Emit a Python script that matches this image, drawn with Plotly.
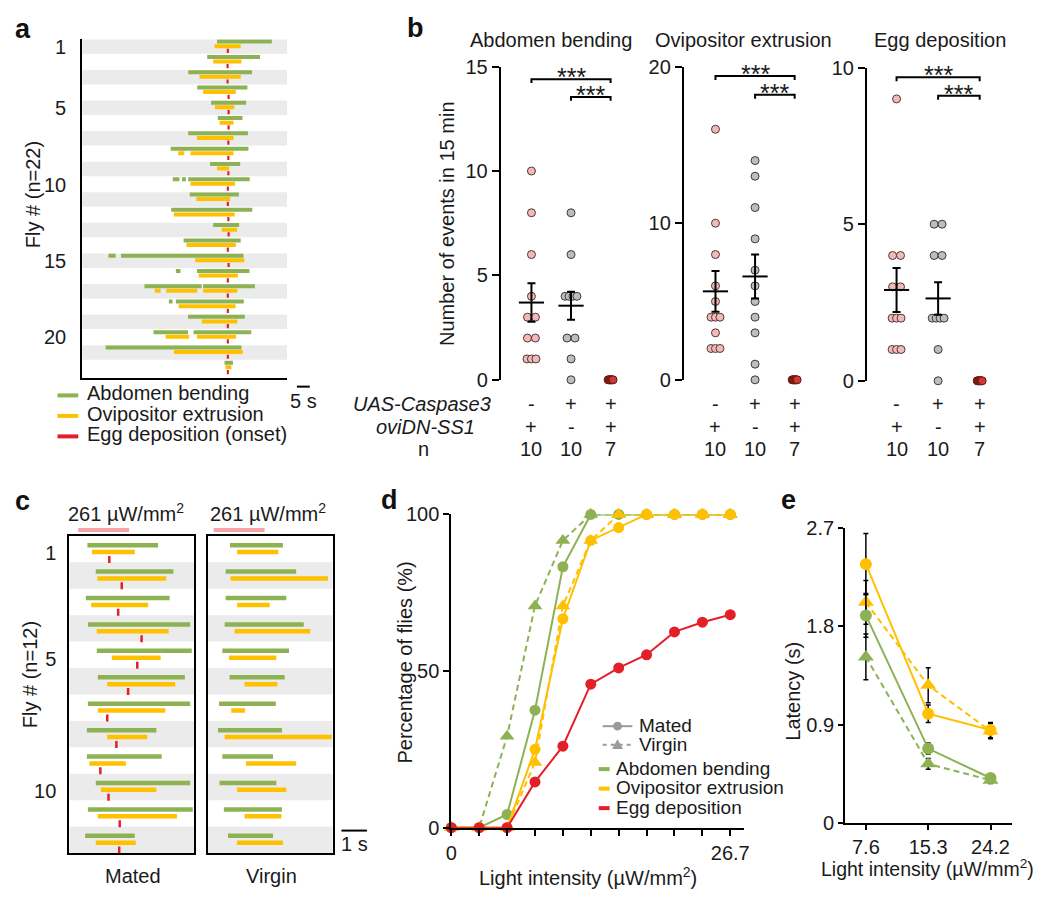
import plotly.graph_objects as go
import numpy as np
from collections import Counter

W, H = 1050, 905
FONT = "Liberation Sans, Arial, Helvetica, sans-serif"
TXT = "#1a1a1a"
GREEN = "#8db253"
YELLOW = "#ffc000"
RED = "#e3202a"
STRIPE = "#ebebeb"
PINK = "#f4b8b8"
GRAYPT = "#bdbdbd"
DARKRED = "#cc3b33"
LEGGRAY = "#9a9a9a"
STIMPINK = "#f5a3a8"

# ---------------- data: panel a (seconds relative to egg deposition) ----------------
a_green = [
    [(-4.1, 17.2)], [(-7.9, 12.6)], [(-15.3, 9.5)], [(-11.8, 7.7)], [(-6.4, 7.2)],
    [(-3.8, 5.8)], [(-15.3, 7.9)], [(-22.1, 8.1)], [(-6.8, 4.9)],
    [(-21.3, -18.7), (-17.7, -16.2), (-15.3, 8.6)],
    [(-14.7, 4.4)], [(-21.9, 9.6)], [(-5.6, 4.5)], [(-17.1, 5.1)],
    [(-46.3, -43.5), (-41.4, 6.2)],
    [(-20.1, -18.3), (-11.9, 8.5)],
    [(-32.3, -10.1), (-9.5, 10.6)],
    [(-22.8, -21.4), (-20.1, 6.3)],
    [(-15.4, 6.7)],
    [(-28.8, -15.4), (-13.2, 9.2)],
    [(-47.4, 5.4)],
    [(-1.2, 2.1)],
]
a_yellow = [
    [(-5.1, 5.1)], [(-5.6, 5.4)], [(-10.9, 5.1)], [(-9.5, 3.2)], [(-4.9, 2.6)],
    [(-3.1, 2.3)], [(-11.9, 2.3)], [(-19.2, -16.8), (-14.4, 2.3)], [(-4.1, 0.6)],
    [(-14.4, 2.9)], [(-12.1, 1.0)], [(-20.9, 2.8)], [(-2.3, 3.7)], [(-16.0, 3.2)],
    [(-12.6, 6.5)], [(-11.2, 4.0)],
    [(-28.3, -26.0), (-23.8, -11.8), (-9.5, 3.8)],
    [(-19.0, 3.1)], [(-10.0, 3.8)],
    [(-24.1, -15.0), (-11.9, 3.3)],
    [(-20.9, 5.9)], [(-0.8, 1.5)],
]
a_egg = [0.1, 0.0, 0.0, 0.4, 0.4, 0.4, 0.3, 0.3, 0.3, 0.1, 0.1,
         0.3, 0.4, 0.1, 0.4, 0.1, 0.1, 0.1, 0.1, 0.1, 0.1, 0.1]
a_ticks = [1, 5, 10, 15, 20]
a_scale_s = 5

# ---------------- data: panel b ----------------
b_titles = ["Abdomen bending", "Ovipositor extrusion", "Egg deposition"]
b_groups = [1, 2, 3]
abd_vals = [[10, 8, 6, 4, 3, 3, 2, 2, 1, 1, 1],
            [8, 6, 4, 4, 4, 4, 2, 2, 1, 0],
            [0, 0, 0, 0, 0, 0, 0]]
ovi_vals = [[16, 10, 8, 6, 5, 4, 4, 4, 3, 2, 2, 2],
            [14, 13, 11, 9, 7, 6, 5, 4, 3, 1, 0],
            [0, 0, 0, 0, 0, 0, 0]]
egg_vals = [[9, 4, 4, 3, 3, 2, 2, 2, 1, 1, 1],
            [5, 5, 4, 4, 2, 2, 2, 2, 1, 0],
            [0, 0, 0, 0, 0, 0, 0]]
b_means = [[3.7, 3.55], [5.65, 6.6], [2.9, 2.63]]
b_sems = [[0.92, 0.67], [1.3, 1.4], [0.7, 0.52]]
b_ymax = [15, 20, 10]
b_yticks = [[0, 5, 10, 15], [0, 10, 20], [0, 5, 10]]
b_sig = [[14.4, 13.55], [19.4, 18.2], [9.69, 9.1]]
row_caspase = ["-", "+", "+"]
row_ovidn = ["+", "-", "+"]
row_n = ["10", "10", "7"]

# ---------------- data: panel c (seconds from light onset) ----------------
c_mated_green = [(0.36, 3.14), (0.69, 3.74), (0.30, 3.59), (0.38, 4.40), (0.73, 4.46), (0.77, 4.19),
                 (0.38, 4.40), (0.34, 3.07), (0.34, 3.28), (0.69, 4.40), (0.38, 4.50), (0.27, 2.22)]
c_mated_yellow = [(0.54, 2.22), (0.75, 3.46), (0.51, 2.75), (0.73, 3.55), (1.32, 3.24), (1.14, 3.81),
                  (0.77, 3.42), (1.14, 2.71), (0.44, 1.87), (0.89, 3.07), (0.77, 3.88), (0.69, 2.26)]
c_mated_egg = [1.22, 1.71, 1.57, 2.49, 2.32, 1.96, 1.14, 1.50, 0.87, 1.19, 1.63, 1.61]
c_virgin_green = [(0.64, 2.72), (0.47, 3.24), (0.47, 2.85), (0.43, 3.54), (0.34, 2.96), (0.62, 2.79),
                  (0.21, 2.44), (0.17, 2.68), (0.34, 2.33), (0.23, 2.46), (0.40, 2.68), (0.56, 2.33)]
c_virgin_yellow = [(0.92, 2.54), (0.66, 4.49), (0.92, 2.20), (0.82, 3.80), (0.60, 2.46), (1.21, 2.50),
                   (0.69, 1.23), (0.43, 4.64), (1.27, 3.24), (0.92, 2.85), (1.21, 2.66), (0.92, 2.72)]
c_stim = (0.0, 2.0)
c_ticks = [1, 5, 10]
c_scale_s = 1

# ---------------- data: panel d ----------------
d_intensity = [0, 2.67, 5.34, 8.01, 10.68, 13.35, 16.02, 18.69, 21.36, 24.03, 26.7]
d_tick_labels = ["0", "26.7"]
d_abd_mated = [0, 0, 4.2, 37.5, 83.3, 100, 100, 100, 100, 100, 100]
d_abd_virgin = [0, 0, 29.2, 70.8, 91.7, 100, 100, 100, 100, 100, 100]
d_ovi_mated = [0, 0, 0, 25.0, 66.7, 91.7, 95.8, 100, 100, 100, 100]
d_ovi_virgin = [0, 0, 0, 20.8, 70.8, 91.7, 100, 100, 100, 100, 100]
d_egg_mated = [0, 0, 0, 14.6, 26.0, 45.8, 51.0, 55.2, 62.5, 65.6, 68.0]

# ---------------- data: panel e ----------------
e_labels = ["7.6", "15.3", "24.2"]
e_abd_mated = [1.90, 0.68, 0.41]
e_abd_mated_sem = [0.20, 0.05, 0.03]
e_abd_virgin = [1.52, 0.54, 0.39]
e_abd_virgin_sem = [0.21, 0.05, 0.03]
e_ovi_mated = [2.37, 1.00, 0.85]
e_ovi_mated_sem = [0.28, 0.08, 0.07]
e_ovi_virgin = [2.02, 1.26, 0.84]
e_ovi_virgin_sem = [0.20, 0.16, 0.07]

# =====================================================================
fig = go.Figure()
shapes, annots, axes = [], [], {}
PANELS = {}


def X(p):
    return p / W


def Y(p):
    return 1 - p / H


def txt(x, y, s, size=20, xanchor="center", yanchor="middle", angle=0,
        color=TXT, xref="paper", yref="paper", yshift=0):
    if xref == "paper":
        x = X(x)
    if yref == "paper":
        y = Y(y)
    annots.append(dict(x=x, y=y, xref=xref, yref=yref, text=s, showarrow=False,
                       xanchor=xanchor, yanchor=yanchor, textangle=angle, yshift=yshift,
                       borderpad=0, font=dict(family=FONT, size=size, color=color)))


def pline(x0, y0, x1, y1, color="black", width=2, dash=None):
    ln = dict(color=color, width=width)
    if dash:
        ln["dash"] = dash
    shapes.append(dict(type="line", xref="paper", yref="paper", x0=X(x0), y0=Y(y0),
                       x1=X(x1), y1=Y(y1), line=ln))


def add_axes(n, xpx, ypx, xr, yr, xkw=None, ykw=None):
    sx = "" if n == 1 else str(n)
    base = dict(showgrid=False, zeroline=False, linecolor="black", linewidth=2,
                tickcolor="black", tickwidth=2, fixedrange=True,
                tickfont=dict(family=FONT, size=20, color=TXT))
    xa = dict(base, domain=[xpx[0] / W, xpx[1] / W], range=list(xr), anchor="y" + sx)
    ya = dict(base, domain=[1 - ypx[1] / H, 1 - ypx[0] / H], range=list(yr), anchor="x" + sx)
    xa.update(xkw or {})
    ya.update(ykw or {})
    axes["xaxis" + sx] = xa
    axes["yaxis" + sx] = ya
    PANELS[n] = dict(xpx=xpx, ypx=ypx, xr=xr, yr=yr)


def xpx_of(n, v):
    p = PANELS[n]
    return p["xpx"][0] + (v - p["xr"][0]) / (p["xr"][1] - p["xr"][0]) * (p["xpx"][1] - p["xpx"][0])


def ppu_x(n):
    p = PANELS[n]
    return (p["xpx"][1] - p["xpx"][0]) / (p["xr"][1] - p["xr"][0])


def ppu_y(n):
    p = PANELS[n]
    return (p["ypx"][1] - p["ypx"][0]) / abs(p["yr"][1] - p["yr"][0])


def ax(n):
    s = "" if n == 1 else str(n)
    return "x" + s, "y" + s


def seg_xy(rows, offset):
    xs, ys = [], []
    for i, segs in enumerate(rows, start=1):
        for s, e in segs:
            xs += [s, e, None]
            ys += [i + offset, i + offset, None]
    return xs, ys


# ======================= Panel a =======================
add_axes(1, (77, 284), (29, 376), (-56.5, 23.1), (22.64, 0.5),
         xkw=dict(showline=True, ticks="", showticklabels=False),
         ykw=dict(showline=True, ticks="", tickvals=a_ticks, ticklabelstandoff=10))
xa, ya = ax(1)
for i in range(1, len(a_green) + 1):
    if i % 2 == 1:
        shapes.append(dict(type="rect", xref="x domain", yref="y", x0=0, x1=1,
                           y0=i - 0.5, y1=i + 0.45, fillcolor=STRIPE, line=dict(width=0), layer="below"))
gx, gy = seg_xy(a_green, -0.35)
fig.add_trace(go.Scatter(x=gx, y=gy, mode="lines", line=dict(color=GREEN, width=4),
                         xaxis=xa, yaxis=ya, hoverinfo="skip"))
yx, yy = seg_xy(a_yellow, -0.05)
fig.add_trace(go.Scatter(x=yx, y=yy, mode="lines", line=dict(color=YELLOW, width=4),
                         xaxis=xa, yaxis=ya, hoverinfo="skip"))
fig.add_trace(go.Scatter(x=a_egg, y=[i + 0.26 for i in range(1, len(a_egg) + 1)], mode="markers",
                         marker=dict(symbol="line-ns", size=3, line=dict(color=RED, width=2.2)),
                         xaxis=xa, yaxis=ya, hoverinfo="skip"))
txt(28, 188, "Fly # (n=22)", angle=-90)
# legend a
for k, (c, lab) in enumerate([(GREEN, "Abdomen bending"), (YELLOW, "Ovipositor extrusion"),
                              (RED, "Egg deposition (onset)")]):
    yl = 394 + 21 * k
    pline(52, yl, 73, yl, color=c, width=4)
    txt(81, yl - 2, lab, xanchor="left")
# scale bar a
sb0 = 294
pline(sb0, 385, sb0 + a_scale_s * ppu_x(1), 385, width=2)
txt(sb0 + a_scale_s * ppu_x(1) / 2, 400, f"{a_scale_s} s")

# ======================= Panel b =======================
b_specs = [(2, (500, 625), (57, 378), (0.225, 3.35)),
           (3, (685, 811), (57, 378), (0.2, 3.35)),
           (4, (870, 1002), (58, 379), (0.286, 3.429))]
b_all = [abd_vals, ovi_vals, egg_vals]
fills = [PINK, GRAYPT, DARKRED]
outl = ["#4a3a3a", "#3a3a3a", "#6b1410"]
for k, (n, xpx, ypx, xr) in enumerate(b_specs):
    add_axes(n, xpx, ypx, xr, (0, b_ymax[k]),
             xkw=dict(visible=False),
             ykw=dict(showline=True, ticks="outside", ticklen=7, tickvals=b_yticks[k]))
    xa, ya = ax(n)
    ppu = ppu_x(n)
    for gi, vals in enumerate(b_all[k]):
        g = b_groups[gi]
        cnt = Counter(vals)
        xs, ys = [], []
        for v in sorted(cnt, reverse=True):
            m = cnt[v]
            hpx = {1: 0, 2: 4, 3: 4.5, 4: 6}.get(m, 2.5)
            offs = np.linspace(-hpx, hpx, m) if m > 1 else np.array([0.0])
            for o in offs:
                xs.append(g + o / ppu)
                ys.append(v)
        fig.add_trace(go.Scatter(x=xs, y=ys, mode="markers", cliponaxis=False,
                                 marker=dict(size=8, color=fills[gi], line=dict(color=outl[gi], width=1)),
                                 xaxis=xa, yaxis=ya, hoverinfo="skip"))
    fig.add_trace(go.Scatter(x=b_groups[:2], y=b_means[k], mode="markers", cliponaxis=False,
                             marker=dict(symbol="line-ew", size=18, line=dict(color="black", width=2)),
                             error_y=dict(type="data", array=b_sems[k], color="black", thickness=2, width=4),
                             xaxis=xa, yaxis=ya, hoverinfo="skip"))
    tick = 4 / ppu_y(n)
    for lev, (g0, g1) in zip(b_sig[k], [(1, 3), (2, 3)]):
        shapes.append(dict(type="path", xref=xa, yref=ya,
                           path=f"M {g0},{lev - tick} L {g0},{lev} L {g1},{lev} L {g1},{lev - tick}",
                           line=dict(color="black", width=2)))
        txt((g0 + g1) / 2, lev, "***", size=25, xref=xa, yref=ya, yanchor="bottom", yshift=-13)
    # title
    txt([551, 745, 944][k], 30, b_titles[k])
    # genotype rows
    for gi, g in enumerate(b_groups):
        gx_px = xpx_of(n, g)
        txt(gx_px, 403, row_caspase[gi])
        txt(gx_px, 426, row_ovidn[gi])
        txt(gx_px, 449, row_n[gi])
txt(445, 218, "Number of events in 15 min", angle=-90)
txt(420, 403, "<i>UAS-Caspase3</i>")
txt(424, 426, "<i>oviDN-SS1</i>")
txt(422, 449, "n")

# ======================= Panel c =======================
c_sets = [(5, (64, 190), (-0.35, 4.55), c_mated_green, c_mated_yellow, c_mated_egg, "Mated"),
          (6, (204, 330), (-0.23, 4.67), c_virgin_green, c_virgin_yellow, None, "Virgin")]
for n, xpx, xr, gr, yl, eg, lab in c_sets:
    ykw = dict(showline=True, mirror=True, ticks="")
    if n == 5:
        ykw.update(tickvals=[t + 0.15 for t in c_ticks], ticktext=[str(t) for t in c_ticks],
                   ticklabelstandoff=7)
    else:
        ykw.update(showticklabels=False)
    add_axes(n, xpx, (538, 863), xr, (12.5, 0.5),
             xkw=dict(showline=True, mirror=True, ticks="", showticklabels=False), ykw=ykw)
    xa, ya = ax(n)
    for i in range(1, 13):
        if i % 2 == 0:
            shapes.append(dict(type="rect", xref=xa + " domain", yref=ya, x0=0, x1=1,
                               y0=i - 0.5, y1=i + 0.5, fillcolor=STRIPE, line=dict(width=0), layer="below"))
    gx, gy = seg_xy([[s] for s in gr], -0.15)
    fig.add_trace(go.Scatter(x=gx, y=gy, mode="lines", line=dict(color=GREEN, width=4.5),
                             xaxis=xa, yaxis=ya, hoverinfo="skip"))
    yx, yy = seg_xy([[s] for s in yl], 0.11)
    fig.add_trace(go.Scatter(x=yx, y=yy, mode="lines", line=dict(color=YELLOW, width=4.5),
                             xaxis=xa, yaxis=ya, hoverinfo="skip"))
    if eg is not None:
        fig.add_trace(go.Scatter(x=eg, y=[i + 0.39 for i in range(1, 13)], mode="markers",
                                 marker=dict(symbol="line-ns", size=5, line=dict(color=RED, width=2.5)),
                                 xaxis=xa, yaxis=ya, hoverinfo="skip"))
    # stimulus bar + label
    s0, s1 = xpx_of(n, c_stim[0]), xpx_of(n, c_stim[1])
    pline(s0, 532, s1, 532, color=STIMPINK, width=4)
    txt((xpx[0] + xpx[1]) / 2 - 6 if n == 5 else (xpx[0] + xpx[1]) / 2 - 2, 514,
        "261 µW/mm<sup>2</sup>")
    txt((xpx[0] + xpx[1]) / 2 + 1, 887, lab)
txt(25, 680, "Fly # (n=12)", angle=-90)
pline(339, 840, 339 + c_scale_s * ppu_x(6), 840, width=2)
txt(339 + c_scale_s * ppu_x(6) / 2, 854, f"{c_scale_s} s")

# ======================= Panel d =======================
add_axes(7, (450, 746), (516, 837), (0, 28.03), (0, 100),
         xkw=dict(showline=True, ticks="outside", ticklen=6,
                  tickvals=[d_intensity[0], d_intensity[-1]], ticktext=d_tick_labels,
                  minor=dict(tickvals=d_intensity[1:-1], ticks="outside", ticklen=6,
                             tickwidth=2, tickcolor="black", showgrid=False)),
         ykw=dict(showline=True, ticks="outside", ticklen=6, tickvals=[0, 50, 100]))
xa, ya = ax(7)
for yv, col, dash, sym, sz in [(d_abd_virgin, GREEN, "6px,4px", "triangle-up", 13),
                               (d_abd_mated, GREEN, "solid", "circle", 11),
                               (d_ovi_mated, YELLOW, "solid", "circle", 11),
                               (d_ovi_virgin, YELLOW, "6px,4px", "triangle-up", 13),
                               (d_egg_mated, RED, "solid", "circle", 11)]:
    fig.add_trace(go.Scatter(x=d_intensity, y=yv, mode="lines+markers", cliponaxis=False,
                             line=dict(color=col, width=2, dash=dash),
                             marker=dict(symbol=sym, size=sz, color=col),
                             xaxis=xa, yaxis=ya, hoverinfo="skip"))
txt(403, 668, "Percentage of flies (%)", angle=-90)
txt(588, 887, "Light intensity (µW/mm<sup>2</sup>)")
# legend d
pline(603, 733, 633, 733, color=LEGGRAY, width=2)
shapes.append(dict(type="circle", xref="paper", yref="paper", x0=X(613.5), x1=X(622.5),
                   y0=Y(737.5), y1=Y(728.5), fillcolor=LEGGRAY, line=dict(width=0)))
txt(639, 732, "Mated", xanchor="left", size=19)
pline(603, 752, 633, 752, color=LEGGRAY, width=2, dash="4px,4px")
shapes.append(dict(type="path", xref="paper", yref="paper",
                   path=f"M {X(612.5)},{Y(756.5)} L {X(623.5)},{Y(756.5)} L {X(618)},{Y(746.5)} Z",
                   fillcolor=LEGGRAY, line=dict(width=0)))
txt(639, 752, "Virgin", xanchor="left", size=19)
for k, (c, lab) in enumerate([(GREEN, "Abdomen bending"), (YELLOW, "Ovipositor extrusion"),
                              (RED, "Egg deposition")]):
    yl = 777 + 20 * k
    pline(599, yl, 610, yl, color=c, width=4)
    txt(615, yl - 1, lab, xanchor="left", size=19)

# ======================= Panel e =======================
add_axes(8, (848, 1017), (530, 832), (-0.333, 2.35), (0, 2.7),
         xkw=dict(showline=True, ticks="outside", ticklen=5, tickvals=[0, 1, 2], ticktext=e_labels),
         ykw=dict(showline=True, ticks="outside", ticklen=5, tickvals=[0, 0.9, 1.8, 2.7],
                  ticktext=["0", "0.9", "1.8", "2.7"]))
xa, ya = ax(8)
ex = list(range(len(e_labels)))
for yv, sem, col, dash, sym, sz in [(e_abd_virgin, e_abd_virgin_sem, GREEN, "6px,4px", "triangle-up", 14),
                                    (e_ovi_virgin, e_ovi_virgin_sem, YELLOW, "6px,4px", "triangle-up", 14),
                                    (e_abd_mated, e_abd_mated_sem, GREEN, "solid", "circle", 12),
                                    (e_ovi_mated, e_ovi_mated_sem, YELLOW, "solid", "circle", 12)]:
    fig.add_trace(go.Scatter(x=ex, y=yv, mode="lines+markers", cliponaxis=False,
                             line=dict(color=col, width=2, dash=dash),
                             marker=dict(symbol=sym, size=sz, color=col),
                             error_y=dict(type="data", array=sem, color="black", thickness=1.5, width=2.5),
                             xaxis=xa, yaxis=ya, hoverinfo="skip"))
txt(795, 697, "Latency (s)", angle=-90)
txt(931, 878, "Light intensity (µW/mm<sup>2</sup>)", size=19.5)

# ======================= panel letters =======================
for lab, x, y in [("a", 17, 18), ("b", 414, 17), ("c", 17, 502), ("d", 388, 501), ("e", 791, 501)]:
    txt(x, y, f"<b>{lab}</b>", size=27, color="#111")

fig.update_layout(width=W, height=H, margin=dict(l=0, r=0, t=0, b=0),
                  paper_bgcolor="white", plot_bgcolor="rgba(0,0,0,0)",
                  showlegend=False, hovermode=False,
                  font=dict(family=FONT, size=20, color=TXT),
                  shapes=shapes, annotations=annots, **axes)
fig.write_html("out.html", config={"displayModeBar": False, "staticPlot": True},
               post_script="document.body.style.margin='0px';document.body.style.overflow='hidden';")
